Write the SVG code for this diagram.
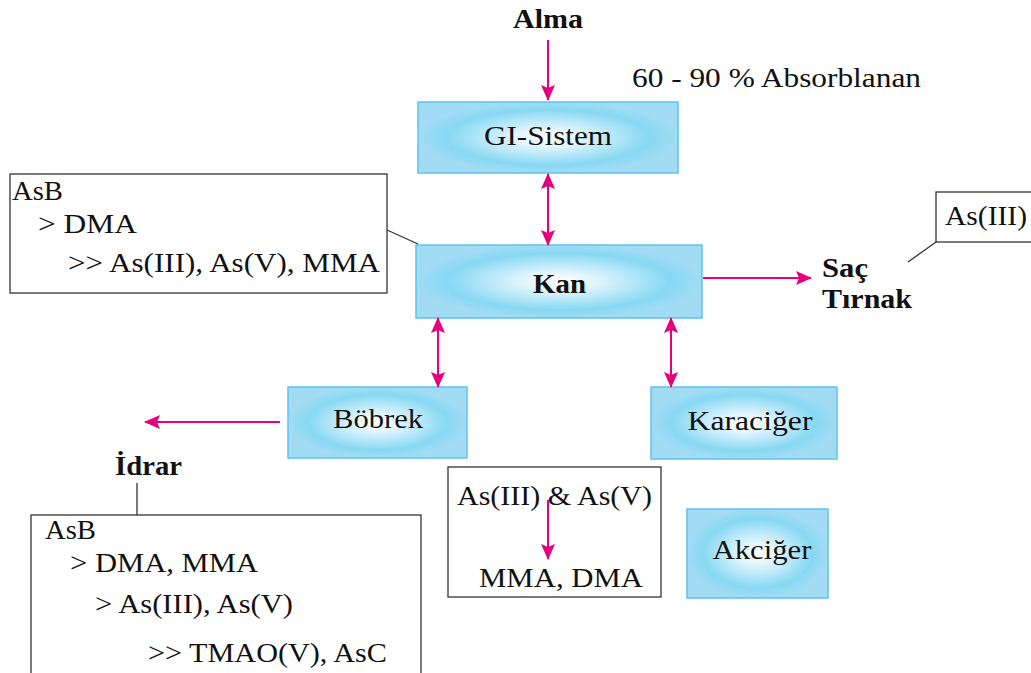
<svg xmlns="http://www.w3.org/2000/svg" width="1031" height="673" viewBox="0 0 1031 673">
  <defs>
    <radialGradient id="organFill" cx="0.5" cy="0.5" r="0.5">
      <stop offset="0" stop-color="#ffffff"/>
      <stop offset="0.25" stop-color="#e3f5fd"/>
      <stop offset="0.55" stop-color="#afe5f8"/>
      <stop offset="0.78" stop-color="#86d8f2"/>
      <stop offset="1" stop-color="#a2dcf4"/>
    </radialGradient>
    <marker id="head" viewBox="0 0 16 14" refX="15" refY="7" markerWidth="16" markerHeight="14" markerUnits="userSpaceOnUse" orient="auto-start-reverse">
      <path d="M0,0 L16,7 L0,14 L3,7 Z" fill="#e6007e"/>
    </marker>
  </defs>
  <style>
    .organ { fill: url(#organFill); stroke: #5cc3ea; stroke-width: 1.5; }
    .note { fill: #ffffff; stroke: #333333; stroke-width: 1.3; }
    .lead { stroke: #333333; stroke-width: 1.3; fill: none; }
    .flow { stroke: #e6007e; stroke-width: 2; fill: none; }
    text { font-family: "Liberation Serif", "Times New Roman", serif; font-size: 28px; fill: #111111; }
    .b { font-weight: bold; }
    .c { text-anchor: middle; }
  </style>

  <!-- free labels -->
  <text class="b c" x="548" y="28" textLength="70" lengthAdjust="spacingAndGlyphs">Alma</text>
  <text x="632" y="87" textLength="289" lengthAdjust="spacingAndGlyphs">60 - 90 % Absorblanan</text>

  <g id="gi">
    <rect class="organ" x="418" y="102" width="260" height="71"/>
    <text class="c" x="548" y="145" textLength="128" lengthAdjust="spacingAndGlyphs">GI-Sistem</text>
  </g>

  <g id="kan">
    <rect class="organ" x="416" y="245" width="286" height="73"/>
    <text class="b c" x="559.5" y="293" textLength="53" lengthAdjust="spacingAndGlyphs">Kan</text>
  </g>

  <g id="bobrek">
    <rect class="organ" x="288" y="387" width="179" height="71"/>
    <text class="c" x="378" y="428" textLength="90" lengthAdjust="spacingAndGlyphs">Böbrek</text>
  </g>

  <g id="karaciger">
    <rect class="organ" x="651" y="387" width="186" height="72"/>
    <text class="c" x="750" y="430" textLength="125" lengthAdjust="spacingAndGlyphs">Karaciğer</text>
  </g>

  <g id="akciger">
    <rect class="organ" x="687" y="509" width="141" height="89"/>
    <text class="c" x="762" y="559" textLength="99" lengthAdjust="spacingAndGlyphs">Akciğer</text>
  </g>

  <g id="kan-note">
    <rect class="note" x="10" y="174" width="377" height="119"/>
    <text x="12" y="200" textLength="51" lengthAdjust="spacingAndGlyphs">AsB</text>
    <text x="38" y="233" textLength="99" lengthAdjust="spacingAndGlyphs">&gt; DMA</text>
    <text x="68" y="272" textLength="312" lengthAdjust="spacingAndGlyphs">&gt;&gt; As(III), As(V), MMA</text>
  </g>

  <g id="sac-tirnak">
    <text class="b" x="822" y="277" textLength="46" lengthAdjust="spacingAndGlyphs">Saç</text>
    <text class="b" x="822" y="308" textLength="90" lengthAdjust="spacingAndGlyphs">Tırnak</text>
  </g>

  <g id="sac-note">
    <rect class="note" x="936" y="192" width="110" height="50"/>
    <text x="945" y="225" textLength="82" lengthAdjust="spacingAndGlyphs">As(III)</text>
  </g>

  <g id="metabolism">
    <rect class="note" x="448" y="467" width="213" height="130"/>
    <text x="457" y="505" textLength="195" lengthAdjust="spacingAndGlyphs">As(III) &amp; As(V)</text>
    <text x="479" y="587" textLength="164" lengthAdjust="spacingAndGlyphs">MMA, DMA</text>
  </g>

  <g id="idrar">
    <text class="b" x="115" y="475" textLength="67" lengthAdjust="spacingAndGlyphs">İdrar</text>
  </g>

  <g id="idrar-note">
    <rect class="note" x="31" y="515" width="390" height="180"/>
    <text x="45" y="539" textLength="51" lengthAdjust="spacingAndGlyphs">AsB</text>
    <text x="70" y="572" textLength="188" lengthAdjust="spacingAndGlyphs">&gt; DMA, MMA</text>
    <text x="95" y="613" textLength="198" lengthAdjust="spacingAndGlyphs">&gt; As(III), As(V)</text>
    <text x="148" y="662" textLength="239" lengthAdjust="spacingAndGlyphs">&gt;&gt; TMAO(V), AsC</text>
  </g>

  <g id="connectors">
    <line class="flow" x1="548" y1="40" x2="548" y2="100" marker-end="url(#head)"/>
    <line class="flow" x1="548" y1="174" x2="548" y2="245" marker-start="url(#head)" marker-end="url(#head)"/>
    <line class="flow" x1="438" y1="318" x2="438" y2="387" marker-start="url(#head)" marker-end="url(#head)"/>
    <line class="flow" x1="671" y1="318" x2="671" y2="387" marker-start="url(#head)" marker-end="url(#head)"/>
    <line class="flow" x1="703" y1="278" x2="811" y2="278" marker-end="url(#head)"/>
    <line class="flow" x1="280" y1="422" x2="145" y2="422" marker-end="url(#head)"/>
    <line class="flow" x1="548" y1="500" x2="548" y2="559" marker-end="url(#head)"/>
    <line class="lead" x1="387" y1="230" x2="418" y2="244"/>
    <line class="lead" x1="936" y1="242" x2="908" y2="262"/>
    <line class="lead" x1="137" y1="483" x2="137" y2="515"/>
  </g>
</svg>
